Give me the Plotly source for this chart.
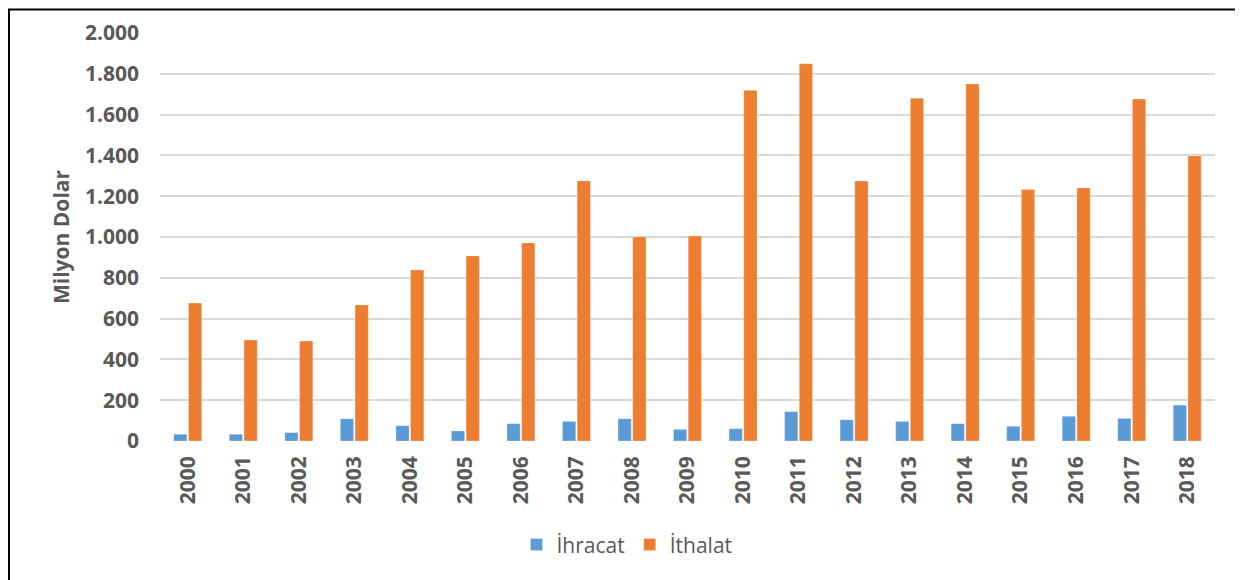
import plotly.graph_objects as go

years = [str(y) for y in range(2000, 2019)]
ihracat = [33, 33, 41, 109, 75, 49, 85, 96, 109, 57, 60, 144, 104, 96, 85, 72, 121, 111, 176]
ithalat = [676, 495, 490, 667, 838, 907, 971, 1275, 1000, 1005, 1719, 1849, 1274, 1680, 1750, 1233, 1240, 1676, 1397]
y_ticks = [0, 200, 400, 600, 800, 1000, 1200, 1400, 1600, 1800, 2000]
y_tick_labels = ["0", "200", "400", "600", "800", "1.000", "1.200", "1.400", "1.600", "1.800", "2.000"]

# page has an 8px body margin: figure coordinates = page coordinates - 8
W, H = 1235, 572
L, R, T, B = 152, 28, 24.5, 139
pw, ph = W - L - R, H - T - B

fig = go.Figure()
fig.add_trace(go.Bar(x=years, y=ihracat, name="İhracat",
                     marker=dict(color="#5b9bd5", line=dict(color="rgba(255,255,255,0.5)", width=0.5))))
fig.add_trace(go.Bar(x=years, y=ithalat, name="İthalat",
                     marker=dict(color="#ed7d31", line=dict(color="rgba(255,255,255,0.5)", width=0.5))))

def px_x(p):
    return (p - L) / pw

def px_y(p):
    return (H - B - p) / ph

fig.add_shape(type="rect", xref="paper", yref="paper",
              x0=px_x(1), x1=px_x(1232), y0=px_y(600), y1=px_y(1),
              line=dict(color="black", width=2), fillcolor="rgba(0,0,0,0)", layer="above")

tick_font = dict(size=21, family="Open Sans", color="#595959", weight="bold")

fig.update_layout(
    width=W, height=H,
    margin=dict(l=L, r=R, t=T, b=B, autoexpand=False),
    paper_bgcolor="white", plot_bgcolor="white",
    barmode="group", bargap=0.47, bargroupgap=0.1,
    font=dict(family="Open Sans", color="#595959"),
    showlegend=True,
    legend=dict(orientation="h", x=px_x(619), xanchor="center",
                y=px_y(537), yanchor="middle",
                font=dict(size=21, family="Open Sans", color="#595959"),
                itemwidth=30, traceorder="normal"),
    xaxis=dict(type="category", tickangle=-90, showgrid=False, showline=False,
               ticks="", tickfont=tick_font, ticklabelstandoff=10),
    yaxis=dict(range=[0, 2000], tickvals=y_ticks, ticktext=y_tick_labels,
               showgrid=True, gridcolor="#d9d9d9", gridwidth=1.5, zeroline=False,
               showline=False, ticks="", tickfont=tick_font,
               ticklabelstandoff=20,
               title=dict(text="Milyon Dolar", standoff=9,
                          font=dict(size=21, family="Open Sans", color="#595959", weight="bold"))),
)

fig.write_html("out.html")
